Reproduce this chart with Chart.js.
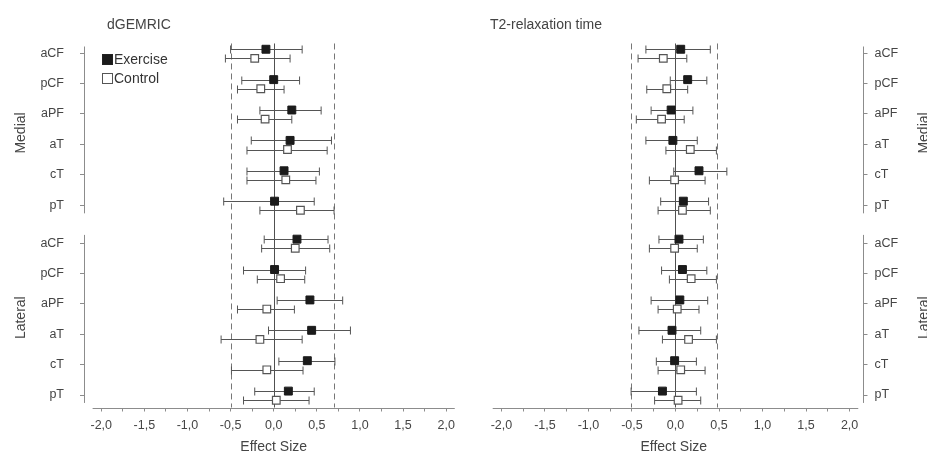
<!DOCTYPE html>
<html>
<head>
<meta charset="utf-8">
<script src="https://cdn.jsdelivr.net/npm/chart.js@4.4.1/dist/chart.umd.min.js"></script>
<style>
  body { margin: 0; background: #fff; font-family: 'Liberation Sans', Arial, sans-serif; color: #444; }
  #wrap { position: relative; width: 927px; height: 452px; overflow: hidden; }
  canvas { position: absolute; top: 0; }
  .txt { position: absolute; font-size: 14px; line-height: 16px; white-space: nowrap; }
  .box { position: absolute; width: 9px; height: 9px; border: 1px solid #222; }
</style>
</head>
<body>
<div id="wrap">
  <canvas id="left" width="470" height="452" style="left:0"></canvas>
  <canvas id="right" width="452" height="452" style="left:475px"></canvas>
  <div class="txt" style="left:107px;top:16px">dGEMRIC</div>
  <div class="txt" style="left:490px;top:16px">T2-relaxation time</div>
  <div class="box" style="left:102px;top:54px;background:#1b1b1b"></div>
  <div class="txt" style="left:114px;top:51px;color:#333">Exercise</div>
  <div class="box" style="left:102px;top:73px;background:#fff;border-color:#555"></div>
  <div class="txt" style="left:114px;top:70px;color:#333">Control</div>
</div>
<script>
// regions on the y axes, top to bottom
const regions = ['aCF', 'pCF', 'aPF', 'aT', 'cT', 'pT'];
const xTicks = [-2, -1.75, -1.5, -1.25, -1, -0.75, -0.5, -0.25, 0, 0.25, 0.5, 0.75, 1, 1.25, 1.5, 1.75, 2];

// dGEMRIC - medial
const dgMedExEst = [-0.09, 0.00, 0.21, 0.19, 0.12, 0.01];
const dgMedExLo  = [-0.50, -0.37, -0.16, -0.26, -0.31, -0.58];
const dgMedExHi  = [0.33, 0.30, 0.55, 0.67, 0.53, 0.47];
const dgMedCtEst = [-0.22, -0.15, -0.10, 0.16, 0.14, 0.31];
const dgMedCtLo  = [-0.56, -0.42, -0.42, -0.31, -0.31, -0.16];
const dgMedCtHi  = [0.19, 0.12, 0.21, 0.62, 0.49, 0.70];
// dGEMRIC - lateral
const dgLatExEst = [0.27, 0.01, 0.42, 0.44, 0.39, 0.17];
const dgLatExLo  = [-0.11, -0.35, 0.04, -0.06, 0.06, -0.22];
const dgLatExHi  = [0.63, 0.37, 0.80, 0.89, 0.71, 0.47];
const dgLatCtEst = [0.25, 0.08, -0.08, -0.16, -0.08, 0.03];
const dgLatCtLo  = [-0.14, -0.19, -0.42, -0.61, -0.49, -0.35];
const dgLatCtHi  = [0.65, 0.36, 0.24, 0.33, 0.34, 0.41];
// T2 - medial
const t2MedExEst = [0.06, 0.14, -0.05, -0.03, 0.27, 0.09];
const t2MedExLo  = [-0.34, -0.06, -0.28, -0.34, -0.02, -0.17];
const t2MedExHi  = [0.40, 0.36, 0.20, 0.25, 0.59, 0.38];
const t2MedCtEst = [-0.14, -0.10, -0.16, 0.17, -0.01, 0.08];
const t2MedCtLo  = [-0.43, -0.33, -0.45, -0.11, -0.30, -0.20];
const t2MedCtHi  = [0.13, 0.14, 0.10, 0.47, 0.34, 0.40];
// T2 - lateral
const t2LatExEst = [0.04, 0.08, 0.05, -0.04, -0.01, -0.15];
const t2LatExLo  = [-0.19, -0.16, -0.28, -0.42, -0.22, -0.51];
const t2LatExHi  = [0.32, 0.36, 0.37, 0.29, 0.24, 0.24];
const t2LatCtEst = [-0.01, 0.18, 0.02, 0.15, 0.06, 0.03];
const t2LatCtLo  = [-0.30, -0.07, -0.20, -0.15, -0.20, -0.24];
const t2LatCtHi  = [0.25, 0.47, 0.27, 0.47, 0.34, 0.29];

// dashed limits of each panel
const dgLimits = [-0.5, 0.7];
const t2Limits = [-0.51, 0.48];

const textColor = '#454545';
const axisColor = '#8c8c8c';
const barColor = '#555';

// exercise slightly above the tick, control slightly below
const exShift = -0.13, ctShift = 0.17;

const forestPlugin = {
  id: 'forest',
  beforeDatasetsDraw(chart) {
    const ctx = chart.ctx;
    const xs = chart.scales.x, yMed = chart.scales.yMed, yLat = chart.scales.yLat;
    const area = chart.chartArea;
    const side = chart.options.plugins.forest.side;
    ctx.save();
    // axis lines
    ctx.strokeStyle = axisColor;
    ctx.lineWidth = 1;
    ctx.beginPath();
    const ax = side === 'left' ? Math.round(area.left) + 0.5 : Math.round(area.right) - 0.5;
    ctx.moveTo(ax, yMed.getPixelForValue(-0.22));
    ctx.lineTo(ax, yMed.getPixelForValue(5.27));
    ctx.moveTo(ax, yLat.getPixelForValue(-0.27));
    ctx.lineTo(ax, yLat.getPixelForValue(5.26));
    const by = Math.round(area.bottom) + 0.5;
    ctx.moveTo(xs.getPixelForValue(-2.1), by);
    ctx.lineTo(xs.getPixelForValue(2.1), by);
    ctx.stroke();
    // zero line
    const top = yMed.getPixelForValue(-0.32);
    ctx.strokeStyle = '#505050';
    ctx.beginPath();
    const zx = Math.round(xs.getPixelForValue(0)) + 0.5;
    ctx.moveTo(zx, top);
    ctx.lineTo(zx, area.bottom);
    ctx.stroke();
    // dashed limits
    ctx.strokeStyle = '#777';
    ctx.setLineDash([6, 4]);
    ctx.beginPath();
    chart.options.plugins.forest.limits.forEach(v => {
      const lx = Math.round(xs.getPixelForValue(v)) + 0.5;
      ctx.moveTo(lx, top);
      ctx.lineTo(lx, area.bottom);
    });
    ctx.stroke();
    ctx.setLineDash([]);
    // error bars
    ctx.strokeStyle = barColor;
    ctx.beginPath();
    chart.data.datasets.forEach((ds, di) => {
      const meta = chart.getDatasetMeta(di);
      meta.data.forEach((pt, i) => {
        const x1 = xs.getPixelForValue(ds.errLo[i]);
        const x2 = xs.getPixelForValue(ds.errHi[i]);
        const y = Math.round(pt.y) + 0.5;
        ctx.moveTo(x1, y); ctx.lineTo(x2, y);
        ctx.moveTo(x1, y - 4); ctx.lineTo(x1, y + 4);
        ctx.moveTo(x2, y - 4); ctx.lineTo(x2, y + 4);
      });
    });
    ctx.stroke();
    ctx.restore();
  },
  afterDraw(chart) {
    if (chart.options.plugins.forest.side !== 'right') return;
    const ctx = chart.ctx;
    ctx.save();
    ctx.fillStyle = textColor;
    ctx.font = "14px 'Liberation Sans', Arial, sans-serif";
    ctx.textAlign = 'center';
    ctx.textBaseline = 'middle';
    [['yMed', 'Medial'], ['yLat', 'Lateral']].forEach(([id, label]) => {
      const s = chart.scales[id];
      ctx.save();
      ctx.translate(chart.width - 2.5, (s.top + s.bottom) / 2);
      ctx.rotate(-Math.PI / 2);
      ctx.fillText(label, 0, 0);
      ctx.restore();
    });
    ctx.restore();
  }
};

function yScale(side, min, max, weight, title) {
  return {
    type: 'linear', position: side, stack: 'knee', stackWeight: weight,
    reverse: true, min: min, max: max,
    afterBuildTicks: s => { s.ticks = regions.map((r, i) => ({ value: i })); },
    afterFit: s => { s.width = side === 'left' ? 84 : 63.5; },
    border: { display: false },
    grid: { drawOnChartArea: false, drawTicks: true, tickLength: 4, color: axisColor },
    ticks: {
      autoSkip: false, color: textColor, padding: side === 'left' ? 16 : 7,
      font: { family: "'Liberation Sans', Arial, sans-serif", size: 12.5 },
      callback: v => regions[v]
    },
    title: {
      display: side === 'left', text: title, color: textColor,
      font: { family: "'Liberation Sans', Arial, sans-serif", size: 14 },
      padding: { top: 12.5, bottom: 0 }
    }
  };
}

function groupSets(axis, exEst, exLo, exHi, ctEst, ctLo, ctHi) {
  return [
    {
      label: 'Exercise', yAxisID: axis,
      data: exEst.map((v, i) => ({ x: v, y: i + exShift })),
      errLo: exLo, errHi: exHi,
      pointStyle: 'rect', pointRadius: 5.6,
      backgroundColor: '#1b1b1b', borderColor: '#1b1b1b', borderWidth: 1
    },
    {
      label: 'Control', yAxisID: axis,
      data: ctEst.map((v, i) => ({ x: v, y: i + ctShift })),
      errLo: ctLo, errHi: ctHi,
      pointStyle: 'rect', pointRadius: 5.4,
      backgroundColor: '#fff', borderColor: '#555', borderWidth: 1.2
    }
  ];
}

function forestChart(id, side, xMax, pad, limits, datasets) {
  const med = yScale(side, -0.5, 5.75, 6.25, 'Medial');
  const lat = yScale(side, -0.5, 5.41, 5.91, 'Lateral');
  // left stacks are laid out in reverse order, so list Lateral first there
  const scales = side === 'left' ? { yLat: lat, yMed: med } : { yMed: med, yLat: lat };
  scales.x = {
    type: 'linear', min: -2.2, max: xMax,
    afterBuildTicks: s => { s.ticks = xTicks.map(v => ({ value: v })); },
    afterFit: s => { s.height = 44.5; },
    border: { display: false },
    grid: { drawOnChartArea: false, tickLength: 4, color: axisColor },
    ticks: {
      autoSkip: false, maxRotation: 0, padding: 7, color: textColor,
      font: { family: "'Liberation Sans', Arial, sans-serif", size: 12.5 },
      callback: v => Number.isInteger(v * 2) ? v.toFixed(1).replace('.', ',') : ''
    },
    title: {
      display: true, text: 'Effect Size', color: textColor,
      font: { family: "'Liberation Sans', Arial, sans-serif", size: 14, lineHeight: 1 },
      padding: { top: 0, bottom: -1.7 }
    }
  };
  return new Chart(document.getElementById(id), {
    type: 'scatter',
    data: { datasets: datasets },
    options: {
      responsive: false,
      animation: false,
      layout: { padding: pad },
      plugins: { legend: { display: false }, tooltip: { enabled: false }, forest: { side: side, limits: limits } },
      scales: scales
    },
    plugins: [forestPlugin]
  });
}

forestChart('left', 'left', 2.2, { top: 38, right: 4, left: 0, bottom: 0 }, dgLimits,
  groupSets('yMed', dgMedExEst, dgMedExLo, dgMedExHi, dgMedCtEst, dgMedCtLo, dgMedCtHi)
    .concat(groupSets('yLat', dgLatExEst, dgLatExLo, dgLatExHi, dgLatCtEst, dgLatCtLo, dgLatCtHi)));

forestChart('right', 'right', 2.16, { top: 38, right: 0, left: 9, bottom: 0 }, t2Limits,
  groupSets('yMed', t2MedExEst, t2MedExLo, t2MedExHi, t2MedCtEst, t2MedCtLo, t2MedCtHi)
    .concat(groupSets('yLat', t2LatExEst, t2LatExLo, t2LatExHi, t2LatCtEst, t2LatCtLo, t2LatCtHi)));
</script>
</body>
</html>
